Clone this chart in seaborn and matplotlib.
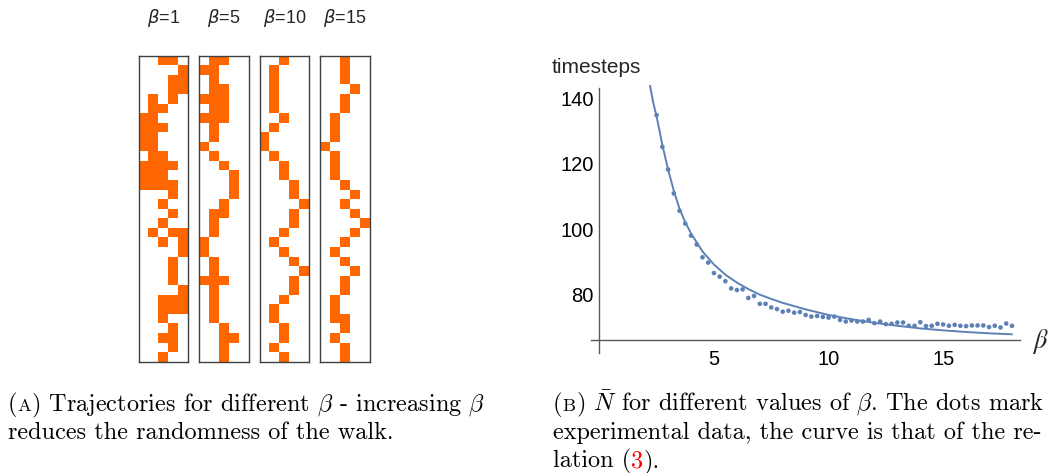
import numpy as np
import pandas as pd
import matplotlib
matplotlib.use("Agg")
import matplotlib.pyplot as plt
from matplotlib.colors import ListedColormap
from matplotlib.ticker import FixedLocator, NullFormatter
import seaborn as sns

W, H = 1052, 473

# ── Panel A: trajectories (occupied columns per row, top to bottom) ──────────
BETAS = [1, 5, 10, 15]
traj_b1 = [[2, 3], [4], [3, 4], [3, 4], [1, 3], [1, 2], [0, 1], [0, 1, 2],
           [0, 1], [0, 1], [1, 2], [0, 1, 2, 3], [0, 1, 2], [0, 1, 2, 3], [3], [2],
           [3], [2], [1, 3, 4], [2, 4], [4], [3], [3], [3],
           [4], [2, 3, 4], [2, 3, 4], [2], [3], [2, 3], [3], [2]]
traj_b5 = [[1, 2], [0, 1], [1], [1, 2], [0, 1, 2], [1, 2], [0, 1, 2], [1],
           [1], [0], [1], [2], [3], [3], [3], [2],
           [1, 2], [1], [1], [0], [0], [1], [1], [0, 1, 2],
           [1], [1], [1], [1], [2], [2, 3], [2], [2]]
traj_b10 = [[2], [1], [1], [1], [1], [1], [2], [1],
            [0], [0], [1], [2], [2], [3], [3], [4],
            [3], [3], [2], [1], [2], [3], [4], [3],
            [3], [2], [1], [1], [2], [2], [1], [2]]
traj_b15 = [[2], [2], [2], [3], [2], [2], [1], [1],
            [1], [0], [1], [1], [1], [2], [3], [2],
            [3], [4], [3], [2], [1], [2], [3], [2],
            [2], [1], [1], [1, 2], [2], [1], [2], [2]]
trajectories = [traj_b1, traj_b5, traj_b10, traj_b15]
N_COLS = 5

# ── Panel B: mean timesteps vs beta ───────────────────────────────────────────
beta_exp = [2.5, 2.75, 3.0, 3.25, 3.5, 3.75, 4.0, 4.25, 4.5, 4.75,
            5.0, 5.25, 5.5, 5.75, 6.0, 6.25, 6.5, 6.75, 7.0, 7.25,
            7.5, 7.75, 8.0, 8.25, 8.5, 8.75, 9.0, 9.25, 9.5, 9.75,
            10.0, 10.25, 10.5, 10.75, 11.0, 11.25, 11.5, 11.75, 12.0, 12.25,
            12.5, 12.75, 13.0, 13.25, 13.5, 13.75, 14.0, 14.25, 14.5, 14.75,
            15.0, 15.25, 15.5, 15.75, 16.0, 16.25, 16.5, 16.75, 17.0, 17.25,
            17.5, 17.75, 18.0]
steps_exp = [134.9, 125.2, 118.3, 111.0, 105.7, 101.8, 98.1, 95.4, 91.5, 89.9,
             86.7, 85.6, 84.2, 82.0, 81.5, 81.7, 79.1, 79.7, 77.3, 77.3,
             76.2, 75.7, 74.9, 75.2, 74.6, 74.8, 73.9, 73.4, 73.6, 73.3,
             73.1, 73.4, 72.4, 71.9, 72.2, 71.9, 71.9, 72.4, 71.4, 71.9,
             71.1, 71.2, 71.6, 71.6, 70.6, 70.6, 71.7, 70.5, 70.6, 71.2,
             71.0, 70.6, 70.9, 70.6, 70.5, 70.7, 70.7, 70.7, 70.2, 70.6,
             70.1, 71.3, 70.6]
beta_curve = [2.21, 2.35, 2.5, 2.75, 3.0, 3.25, 3.5, 3.75, 4.0, 4.5,
              5.0, 5.5, 6.0, 6.5, 7.0, 7.5, 8.0, 9.0, 10.0, 11.0,
              12.0, 13.0, 14.0, 15.0, 16.0, 17.0, 18.0]
steps_curve = [144.0, 138.8, 134.5, 125.8, 118.3, 111.8, 106.3, 102.2, 98.8, 93.3,
               89.3, 86.2, 83.8, 81.8, 80.1, 78.8, 77.6, 75.6, 73.9, 72.6,
               71.5, 70.6, 69.8, 69.2, 68.7, 68.3, 68.0]

ORANGE = "#FF6600"
BLUE = "#5E81B5"
AXIS_GRAY = "0.35"

sns.set_style("white")
plt.rcParams["font.family"] = ["Liberation Sans", "DejaVu Sans"]
plt.rcParams["mathtext.fontset"] = "cm"


def px_rect(x0, y0, x1, y1):
    """Pixel box (top-left origin) -> figure fraction rect."""
    return [x0 / W, 1 - y1 / H, (x1 - x0) / W, (y1 - y0) / H]


fig = plt.figure(figsize=(W / 100, H / 100), dpi=100)

# ── Panel A: four trajectory grids ────────────────────────────────────────────
box_left = [138.5, 199.3, 259.5, 320.0]
box_w, box_top, box_bot = 49.5, 55.7, 361.7
cmap = ListedColormap(["white", ORANGE])

for beta, traj, x0 in zip(BETAS, trajectories, box_left):
    grid = np.zeros((len(traj), N_COLS))
    for r, cols in enumerate(traj):
        grid[r, cols] = 1
    ax = fig.add_axes(px_rect(x0, box_top, x0 + box_w, box_bot))
    sns.heatmap(pd.DataFrame(grid), cmap=cmap, vmin=0, vmax=1, cbar=False,
                xticklabels=False, yticklabels=False, linewidths=0, ax=ax)
    for s in ax.spines.values():
        s.set_visible(True)
        s.set_color("0.25")
        s.set_linewidth(1.0)
    fig.text((x0 + box_w / 2) / W, 1 - 18 / H, rf"$\beta$={beta}",
             ha="center", va="center", fontsize=13,
             math_fontfamily="dejavusans")

# ── Panel B: timesteps vs beta ────────────────────────────────────────────────
ax = fig.add_axes(px_rect(590.7, 85.0, 1020.0, 353.3))
sns.lineplot(x=beta_curve, y=steps_curve, sort=False, estimator=None,
             color=BLUE, linewidth=1.4, ax=ax)
sns.scatterplot(x=beta_exp, y=steps_exp, color=BLUE, s=11,
                edgecolor="none", ax=ax)

ax.set_xlim(-0.375, 18.35)
ax.set_ylim(62.2, 144.1)
ax.spines["left"].set_position(("data", 0))
ax.spines["bottom"].set_position(("data", 66.3))
ax.spines["left"].set_bounds(62.2, 143.05)
ax.spines["top"].set_visible(False)
ax.spines["right"].set_visible(False)
for side in ["left", "bottom"]:
    ax.spines[side].set_color(AXIS_GRAY)
    ax.spines[side].set_linewidth(1.0)

ax.xaxis.set_major_locator(FixedLocator([5, 10, 15]))
ax.xaxis.set_minor_locator(FixedLocator([v for v in range(1, 19) if v % 5]))
ax.yaxis.set_major_locator(FixedLocator([80, 100, 120, 140]))
ax.yaxis.set_minor_locator(FixedLocator([v for v in range(70, 140, 5) if v % 20]))
ax.xaxis.set_minor_formatter(NullFormatter())
ax.yaxis.set_minor_formatter(NullFormatter())
ax.tick_params(which="major", direction="in", length=4.5, width=0.8,
               color=AXIS_GRAY, labelsize=14.5, labelcolor="black")
ax.tick_params(which="minor", direction="in", length=2.5, width=0.8,
               color=AXIS_GRAY)
ax.tick_params(axis="x", which="both", pad=7)
ax.tick_params(axis="y", which="both", pad=4)
ax.set_xlabel("")
ax.set_ylabel("")

fig.text(552 / W, 1 - 67 / H, "timesteps", ha="left", va="center", fontsize=15)
fig.text(1040 / W, 1 - 341 / H, r"$\beta$", ha="center", va="center",
         fontsize=19, math_fontfamily="stix")

# ── Captions (LaTeX style) ────────────────────────────────────────────────────
CAP_SIZE = 17.5
SC_SIZE = 13.3
fig.canvas.draw()
renderer = fig.canvas.get_renderer()


def place_line(pieces, x, y):
    """Place text pieces one after another on a common baseline (pixels)."""
    cur = x
    for txt, size, color in pieces:
        t = fig.text(cur / W, 1 - y / H, txt, ha="left", va="baseline",
                     fontsize=size, color=color, family="cmr10",
                     math_fontfamily="cm")
        cur = t.get_window_extent(renderer=renderer).x1


place_line([("(", CAP_SIZE, "black"), ("A", SC_SIZE, "black"),
            (r") Trajectories for different $\beta$ - increasing $\beta$", CAP_SIZE, "black")],
           8, 411)
place_line([("reduces the randomness of the walk.", CAP_SIZE, "black")], 8, 439)
place_line([("(", CAP_SIZE, "black"), ("B", SC_SIZE, "black"),
            (r") $\bar{N}$ for different values of $\beta$. The dots mark", CAP_SIZE, "black")],
           553, 411)
place_line([("experimental data, the curve is that of the re-", CAP_SIZE, "black")], 553, 439)
place_line([("lation (", CAP_SIZE, "black"), ("3", CAP_SIZE, "red"),
            (").", CAP_SIZE, "black")], 553, 467)

fig.savefig("out.png", dpi=100)
